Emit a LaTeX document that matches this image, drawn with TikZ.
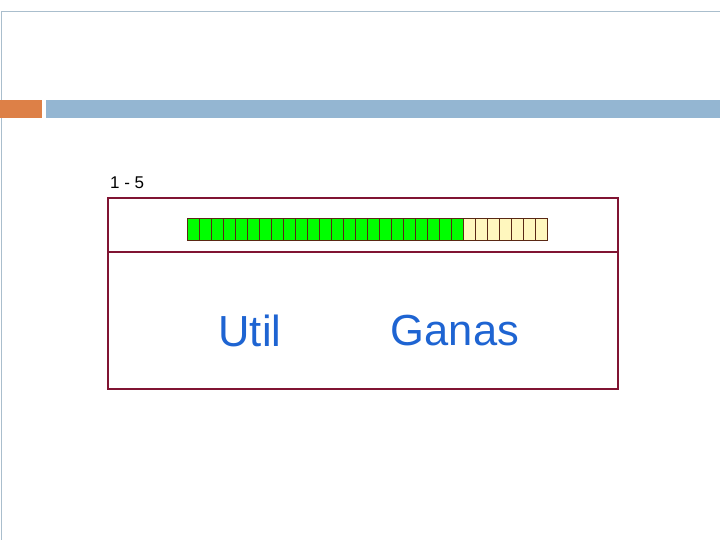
\documentclass[tikz,border=0pt]{standalone}
\usepackage{fontspec}
\setmainfont{Liberation Sans}
\usetikzlibrary{positioning}
\definecolor{frameblue}{RGB}{148,182,210}
\definecolor{framegrey}{RGB}{170,190,205}
\definecolor{barorange}{RGB}{221,128,71}
\definecolor{boxred}{RGB}{128,20,50}
\definecolor{cellgreen}{RGB}{0,255,0}
\definecolor{cellyellow}{RGB}{255,247,190}
\definecolor{cellline}{RGB}{90,40,20}
\definecolor{textblue}{RGB}{30,100,210}
\tikzset{
  cell/.style={draw=cellline, line width=0.8pt, minimum width=12pt, minimum height=22pt, inner sep=0pt, anchor=north west},
  bigword/.style={text=textblue, font=\fontsize{43.5}{45}\selectfont, inner sep=0pt}
}
\begin{document}
\begin{tikzpicture}[x=1pt,y=-1pt]
\useasboundingbox (0,0) rectangle (720,540);
% slide frame
\draw [framegrey, line width=1pt] (1,540) -- (1,12) -- (720,12);
\fill [barorange] (0,100) rectangle (42,118);
\fill [frameblue] (46,100) rectangle (720,118);

% label
\node (range) [anchor=west, inner sep=0pt, font=\fontsize{17}{19}\selectfont] at (110,183) {1 - 5};

% outer box
\draw [boxred, line width=1.2pt] (108,198) rectangle (618,389);
\draw [boxred, line width=1.2pt] (108,252) -- (618,252);

% cells
\foreach \i in {0,...,29} {
  \ifnum\i<23
    \node (c\i) [cell, fill=cellgreen] at (187+12*\i,218) {};
  \else
    \node (c\i) [cell, fill=cellyellow] at (187+12*\i,218) {};
  \fi
}

% words
\node (util) [bigword] at (250,331) {Util};
\node (ganas) [bigword] at (455,331) {Ganas};
\end{tikzpicture}
\end{document}
